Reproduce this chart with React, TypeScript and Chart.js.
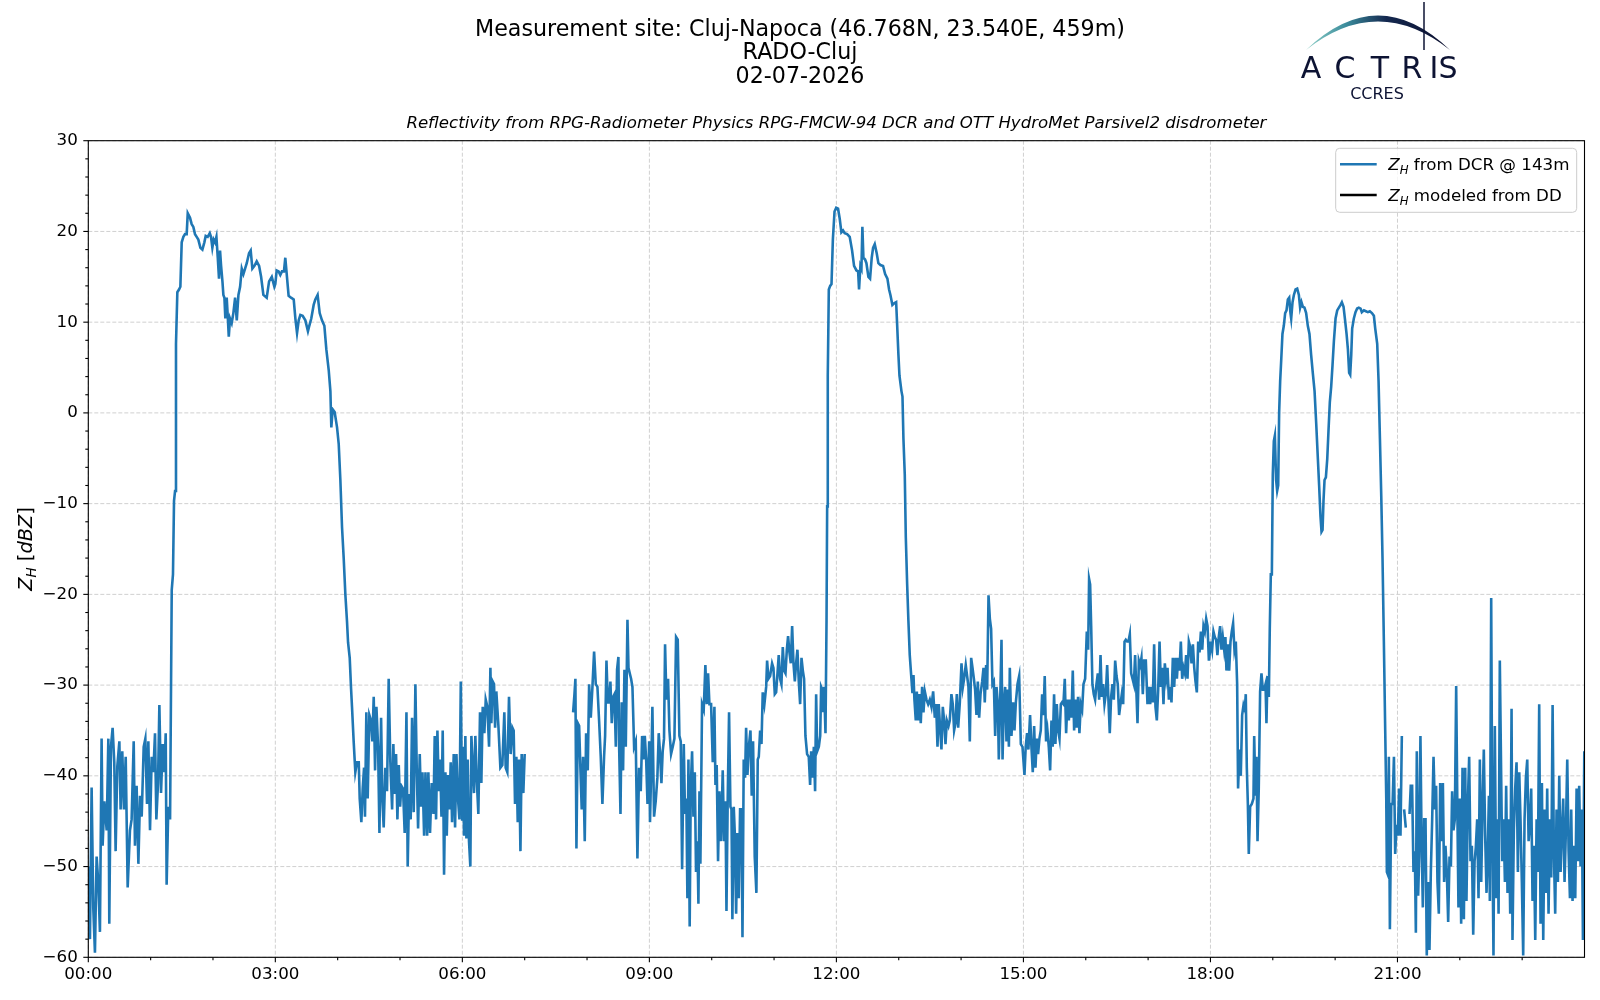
import React, { useEffect, useRef } from 'react';
import { Chart, registerables } from 'chart.js';

Chart.register(...registerables);

// ---------- text ----------
const titleLines = ['Measurement site: Cluj-Napoca (46.768N, 23.540E, 459m)', 'RADO-Cluj', '02-07-2026'];
const subTitle = 'Reflectivity from RPG-Radiometer Physics RPG-FMCW-94 DCR and OTT HydroMet Parsivel2 disdrometer';
const seriesLabels = ['Z_H from DCR @ 143m', 'Z_H modeled from DD'];
const seriesColors = ['#1f77b4', '#000000'];

// ---------- axes ----------
const xMinMin = 0;
const xMaxMin = 1440;
const xMajorStepMin = 180;
const xMinorStepMin = 60;
const yMin = -60;
const yMax = 30;
const yMajorStep = 10;
const yMinorStep = 2;

// ---------- data: [minutes after 00:00 UTC, Z_H dBZ] ----------
const dcr0003: [number, number | null][] = [
  [0, -50], [1.6, -58], [3.2, -41.3], [4.8, -54.6], [6.4, -59.5], [8, -48.9], [9.6, -51.7], [11.2, -57.2], [12.8, -35.9], [13.8, -47.7],
  [15.4, -42.8], [17.7, -46], [19.3, -35.9], [20.2, -56.3], [21.8, -36.8], [23.4, -34.7], [25, -38.5], [26.3, -48.3], [27.9, -39], [29.9, -36.2],
  [31.1, -43.7], [32.7, -37.3], [34.3, -43.7], [36, -37.9], [37.9, -52.3], [40.1, -46], [41.7, -44.8], [43.7, -36.2], [44.9, -47.7], [46.5, -41.1],
  [48.2, -49.7], [49.8, -42.2], [51.4, -44.5], [53.3, -36.8], [54.9, -35.9], [56.5, -43.1], [57.8, -36.2], [59.4, -46], [61, -37.9], [62.6, -39.6],
  [64.2, -35.3], [65.5, -44.8], [67.1, -40.8], [68.4, -32.2], [70, -41.9], [71.6, -36.5], [73.2, -39.6], [74.5, -35.3], [75.4, -52], [77, -43.4],
  [78.7, -44.8], [80.3, -19.5], [81.5, -17.8], [82.5, -9.7], [83.5, -8.6], [84.4, 7.6], [85.7, 13.3], [87.3, 13.6], [88.6, 13.9], [89.9, 18.8],
  [91.5, 19.4], [93.1, 19.7], [94.7, 19.7], [95.7, 22], [97.9, 21.5], [99.5, 20.8], [101.1, 20.5], [102.7, 19.7], [104.3, 19.4], [105.9, 19.1],
  [107.9, 18.2], [109.8, 18], [111.7, 18.8], [113, 19.5], [114.9, 19.4], [116.9, 19.8], [118.1, 19.4], [119.4, 18.2], [120.7, 19.1], [122, 18.8],
  [123.3, 19.4], [124.6, 17.1], [125.8, 14.8], [126.8, 17.9], [127.8, 16.2], [129.1, 14.5], [130, 13], [131, 12.7], [131.9, 10.4], [133.2, 12.7],
  [134.2, 10.7], [135.2, 8.4], [136.4, 10.4], [138, 9.9], [139.6, 11], [141.3, 12.7], [142.9, 10.2], [144.5, 13], [146.1, 13.9], [147.7, 15.9],
  [149.3, 15.3], [150.9, 15.9], [152.5, 16.5], [154.7, 17.6], [156.3, 17.9], [157.9, 15.9], [159.9, 16.2], [162.1, 16.7], [164.4, 16.2], [166.3, 15],
  [168.5, 13], [171.7, 12.7], [174, 14.5], [176.6, 15], [179.1, 13.9],
];

const dcr0306: [number, number | null][] = [
  [180, 14.2], [181.3, 15.7], [183.2, 15.6], [184.8, 15.2], [186.4, 15.6], [188.3, 15.6], [189.6, 17.1], [191.2, 15], [192.8, 12.9], [195.1, 12.7],
  [197.7, 12.5], [199.3, 10.4], [200.9, 8.8], [202.5, 10.2], [204.1, 10.8], [206.3, 10.7], [208.9, 10.2], [211.4, 9], [212.7, 9.6], [214.6, 10.4],
  [216.9, 11.9], [218.5, 12.5], [220.7, 13], [222.7, 11], [224.9, 10.2], [227.2, 9.6], [229.1, 7], [231.4, 4.7], [233, 2.4], [233.9, -1.6],
  [235.2, 0.4], [237.1, 0.1], [239.4, -1.6], [241, -3.4], [242.6, -7.4], [244.2, -12.6], [245.8, -16], [247.4, -20], [249, -23], [250, -25.3],
  [251.6, -27], [252.9, -30.4], [253.8, -32.4], [255.4, -36.2], [257, -39.6], [258.6, -38.5], [260.3, -38.5], [261.2, -42.5], [262.8, -45.1], [264.1, -41.4],
  [265.4, -39.1], [266.3, -44.5], [267.6, -33], [268.9, -42.5], [270.5, -33.3], [272.1, -33.9], [273.4, -36.2], [274.7, -31.3], [276, -39.4], [277.3, -32.4],
  [278.9, -36.8], [280.2, -46.3], [281.8, -33.6], [283, -42.5], [284.3, -45.7], [285.9, -39.1], [287.5, -41.7], [289.1, -29.3], [290.7, -38.5], [292.4, -43.7],
  [293.6, -36.5], [294.9, -42], [296.2, -37.6], [297.5, -44.8], [298.8, -38.8], [300.1, -43.4], [301.3, -41.1], [302.9, -41.4], [304.5, -46.3], [306.2, -33],
  [307.4, -50], [308.7, -42], [310.3, -44.8], [311.6, -33.6], [313.2, -44], [314.8, -29.9], [316.1, -39.1], [317.4, -45.8], [319, -37.6], [320.3, -43.4],
  [321.6, -39.6], [323.2, -46.6], [324.5, -39.6], [326.1, -46.6], [327.3, -39.6], [328.9, -46.3], [330.5, -40.8], [332.2, -44.2], [333.4, -35.6], [334.7, -44.8],
  [336, -35], [337.3, -41.7], [338.6, -38.2], [339.9, -44.5], [341.1, -35], [342.4, -50.9], [343.7, -39.6], [345, -46.6], [346.3, -39.9], [347.6, -43.7],
  [348.8, -38.5], [350.1, -45.1], [351.7, -37.6], [353, -45.7], [354.3, -37.6], [355.6, -42.2], [357.2, -44.8], [358.5, -29.6], [359.8, -44.8],
];

const dcr0609: [number, number | null][] = [
  [360.6, -36.8], [361.6, -46.6], [362.9, -35.6], [363.9, -46.9], [365.1, -38.2], [366.4, -47.2], [367.7, -50], [368.7, -35.6], [370, -39], [371.2, -41.9],
  [372.5, -35.6], [373.8, -40.2], [375.4, -44.2], [377, -33], [378.3, -40.8], [379.6, -32.4], [381.2, -35.3], [382.5, -31.6], [384.1, -32.4], [385.7, -36.8],
  [387, -28.1], [387.9, -34.2], [389.2, -29.6], [390.5, -29.9], [391.5, -34.7], [392.7, -30.7], [394.7, -34.5], [396.6, -39.1], [398.5, -38.8], [400.4, -33],
  [401.7, -39.1], [403.3, -39.6], [404.9, -31.3], [406.5, -37.6], [408.2, -34.7], [409.4, -35], [410.7, -43.1], [412, -37.9], [413.3, -45.1], [414.6, -38.2],
  [415.9, -48.3], [417.1, -37.6], [418.7, -41.9], [420, -37.6],
  [443, null],
  [466.6, -33], [467.9, -31], [468.8, -29.3], [469.8, -48], [471.1, -34.2], [472.4, -34.5], [473.6, -39.1], [474.9, -43.7], [476.2, -37.9], [477.8, -47.2],
  [479.1, -35.3], [480.7, -39.4], [482, -29.9], [483.6, -33.6], [485.2, -30.2], [486.8, -26.3], [488.4, -29.9], [490, -30.2], [491.6, -33.9], [493.2, -37.9],
  [494.8, -43.1], [496.4, -37.9], [497.4, -35.6], [498.7, -27.3], [500, -31.9], [501.2, -31.9], [502.5, -29.6], [503.8, -34.2], [505.1, -31.3], [506.4, -31],
  [507.7, -36.8], [508.9, -28.3], [510.2, -26.9], [510.9, -36.8], [512.2, -44.2], [513.4, -31.9], [514.7, -39.4], [516, -28.3], [517.3, -36.8], [518.9, -22.8],
  [519.9, -28.1], [521.1, -28.7], [522.4, -29.3], [523.7, -30.2], [525.3, -36.8], [526.9, -36.2], [528.5, -49.1], [530.1, -39.1], [531.7, -41.7], [533, -35.6],
  [534.3, -38.2], [535.6, -35.6], [536.9, -38.2], [538.2, -43.1], [539.8, -36.2],
];

const dcr0912: [number, number | null][] = [
  [540.6, -45.1], [541.9, -38.5], [542.9, -32.4], [544.5, -44.5], [546.1, -42.8], [547.7, -40.2], [549, -35.3], [550.3, -37.6], [551.6, -40.8], [552.8, -37.3],
  [554.1, -35.9], [555.1, -25.5], [556.4, -31.6], [558, -29.3], [559.3, -35], [560.9, -37.6], [562.5, -36.8], [564.1, -35.9], [565.7, -24.7], [567.3, -25],
  [568.9, -35.6], [570.2, -36.2], [571.5, -50.3], [573.1, -36.5], [574.3, -44.2], [575.6, -42.5], [576.6, -53.5], [577.6, -38.2], [578.8, -56.6], [579.8, -41.4],
  [581.1, -37.3], [582.4, -44.5], [583.7, -39.6], [584.9, -50.6], [586.2, -47.2], [587.2, -54.1], [588.2, -41.7], [589.1, -49.7], [590.7, -32.1], [592.3, -32.7],
  [593.9, -27.8], [595.2, -32.1], [596.5, -28.7], [597.8, -32.1], [599.4, -32.1], [601, -38.5], [602.6, -32.4], [603.6, -41], [604.8, -38.8], [606.1, -49.4],
  [607.4, -41.7], [609, -47.2], [610.6, -39.4], [611.9, -47.2], [613.2, -42.8], [614.2, -54.9], [615.4, -42.5], [616.7, -33], [618, -43.4], [619, -43.7],
  [619.9, -55.8], [621.2, -43.4], [622.2, -46.3], [623.5, -55.2], [624.7, -46.3], [626, -53.5], [627.3, -43.7], [628.6, -43.7], [629.6, -57.8], [630.8, -38.2],
  [632.1, -40.2], [633.1, -34.7], [634.4, -39.9], [635.7, -36.8], [637.3, -35], [638.5, -42.2], [639.8, -36.2], [641.4, -48.9], [643, -52.9], [644.3, -38.2],
  [645.3, -37.9], [646.6, -35], [647.9, -36.5], [649.1, -30.8], [650.7, -32.1], [652.4, -30.2], [653.3, -27.3], [654.6, -29.3], [656.2, -29], [658.1, -27.6],
  [659.4, -28.1], [660.7, -31], [662, -30.8], [663.3, -28.7], [664.5, -26.7], [665.8, -29.3], [667.1, -29.9], [668.4, -25.8], [669.7, -28.4], [671, -28.7],
  [672.3, -26.1], [673.5, -24.6], [674.8, -26.4], [676.1, -27.6], [677.4, -23.5], [678.7, -27.6], [680, -29.6], [681.2, -27.6], [682.5, -26.1], [683.8, -29.6],
  [685.1, -32.1], [686.4, -27], [687.7, -28.4], [688.9, -29.3], [690.2, -35.6], [691.8, -37.6], [693.4, -37.9], [694.7, -41], [695.7, -37.3], [697, -40.2],
  [698.3, -36.8], [699.5, -41.7], [700.5, -31], [701.5, -37.3], [703.1, -36.8], [704.4, -35.6], [705.3, -30.2], [706.3, -30.5], [707.2, -33], [708.2, -30.2],
  [709.5, -35.3], [710.5, -22.9], [711.1, -10.3], [711.7, 4.1], [712.7, 13.6], [714, 14], [715.3, 14.2], [716.6, 19.1], [718.2, 22.2], [719.8, 22.6],
];

const dcr1215: [number, number | null][] = [
  [721.6, 22.5], [723.2, 21.4], [724.8, 19.9], [726.4, 20.1], [728, 19.8], [730.3, 19.7], [732.8, 19.4], [735.1, 17.9], [737, 16.2], [739.3, 15.7],
  [740.9, 15.6], [741.8, 13.6], [743.1, 16.2], [744.1, 15.9], [745, 20.5], [746, 17.1], [747.6, 16.9], [748.9, 16.5], [750.8, 15], [752.4, 14.8],
  [754, 17.1], [755.3, 18.2], [756.9, 18.6], [758.8, 17.6], [760.4, 16.5], [762.4, 16.3], [764.9, 16.2], [766.9, 15.3], [769.1, 14.8], [770.7, 13.6],
  [772, 13], [773.9, 11.9], [775.9, 12.1], [777.5, 12.2], [778.4, 9.9], [779.7, 6.4], [780.7, 4.1], [782.6, 2.4], [783.6, 1.8], [784.5, -2.8],
  [785.8, -6.8], [786.8, -13.7], [788.1, -18.9], [789.3, -22.9], [790.6, -26.7], [792.2, -29.3], [793.2, -30.9], [794.2, -28.9], [795.1, -31.6], [796.4, -33.9],
  [797.4, -30.7], [798.6, -33.9], [799.9, -31], [801.2, -34.2], [802.5, -30.2], [803.8, -33], [805.1, -30.7], [806.7, -31.6], [808.3, -32.1], [809.9, -31.6],
  [811.5, -32.4], [813.1, -30.7], [814.7, -33.6], [816, -32.1], [817.3, -36.8], [818.5, -32.1], [819.8, -34.7], [821.1, -37.1], [822.4, -32.4], [823.7, -33.9],
  [825, -36.5], [826.3, -33.9], [827.9, -34.5], [829.1, -33.9], [830.7, -31], [832, -32.1], [833.3, -35], [834.6, -34.2], [835.9, -31], [837.2, -34.7],
  [838.8, -31.9], [840.4, -27.6], [841.7, -30.2], [842.9, -29.3], [844.5, -27.8], [845.8, -29], [847.1, -30.2], [848.4, -36.2], [849.7, -27], [851, -28.1],
  [852.3, -29.3], [853.5, -30.5], [854.8, -33.3], [856.1, -29.6], [857.4, -33.6], [858.7, -31], [860.3, -29.6], [861.6, -28.1], [862.8, -31.9], [864.1, -27.8],
  [865.1, -30.5], [866.4, -20.1], [867.7, -22.7], [868.9, -23.8], [870.2, -29.9], [871.5, -29.6], [872.8, -35.6], [874.1, -30.2], [875.4, -32.1], [876.3, -38.2],
  [877.6, -31.9], [878.9, -25], [879.9, -38.2], [881.1, -32.1], [882.4, -30.2], [883.7, -36.2], [885, -30.5], [886, -36.8], [886.9, -28.1], [888.5, -35.6],
  [890.1, -31.9], [891.4, -35], [892.7, -31.9], [894.3, -29.9], [895.9, -29], [897.5, -36.5], [899.1, -36.8],
];

const dcr1518: [number, number | null][] = [
  [901, -39.9], [902.2, -36.8], [903.5, -35.3], [904.8, -37.1], [906.4, -33.3], [907.7, -36.8], [909, -39.6], [910.3, -34.5], [911.6, -39.1], [912.8, -35.9],
  [914.1, -37.6], [915.4, -35.9], [916.7, -35], [918, -31], [919.3, -33.3], [920.5, -29], [921.8, -36.2], [923.1, -35], [924.4, -36.8], [925.7, -39.4],
  [927, -33.9], [928.2, -36.8], [929.5, -31], [930.8, -36.5], [932.1, -32.1], [933.4, -35], [934.7, -35.9], [936, -32.1], [937.2, -31.9], [938.5, -32.1],
  [939.8, -29.3], [941.1, -35.3], [942.4, -31.6], [943.7, -33.9], [944.9, -31.6], [946.2, -33.6], [947.5, -28.4], [948.8, -35], [950.1, -31.6], [951.4, -34.7],
  [952.6, -31.3], [953.9, -35.3], [955.2, -32.1], [956.5, -32.7], [957.8, -29.9], [959.4, -29.3], [961, -24.1], [962.3, -26.1], [963.2, -18.3], [964.2, -18.9],
  [965.2, -23.5], [966.4, -29.9], [967.7, -31], [969, -31.6], [970.3, -29.9], [971.6, -28.7], [972.9, -31.6], [974.2, -26.7], [975.4, -31.3], [976.7, -29.9],
  [978, -32.1], [979.3, -31], [980.6, -27.8], [981.9, -31.9], [983.1, -35.3], [984.4, -31.3], [985.7, -29.9], [987, -31.6], [988.3, -27.3], [989.6, -29],
  [990.8, -29.9], [992.1, -33.3], [993.4, -32.1], [994.7, -31], [996, -32.1], [997.3, -25.2], [998.5, -25], [999.8, -25.2], [1001.1, -25.2], [1002.4, -24.4],
  [1003.7, -28.7], [1005, -29.3], [1006.3, -29.9], [1007.5, -26.7], [1008.8, -31], [1009.8, -34.2], [1011.1, -27.3], [1012.4, -27.8], [1013.6, -27], [1014.9, -31],
  [1016.2, -27.3], [1017.8, -27.3], [1019.4, -32.1], [1020.7, -30.2], [1022, -32.1], [1023.3, -30.2], [1024.5, -31.9], [1025.8, -25.5], [1027.1, -32.4], [1028.4, -33.9],
  [1029.7, -30.5], [1031, -25.2], [1032.3, -30.2], [1033.5, -28.1], [1034.8, -32.1], [1036.1, -27.6], [1037.4, -29.3], [1038.7, -28.1], [1040, -31.6], [1041.2, -30.2],
  [1042.5, -31.9], [1043.8, -27], [1045.1, -30.2], [1046.4, -27], [1047.7, -29.3], [1048.9, -27], [1050.2, -28.4], [1051.5, -25.2], [1052.8, -29.3], [1054.1, -28.1],
  [1055.4, -28.7], [1056.6, -26.7], [1057.9, -29.3], [1059.2, -25.2], [1060.5, -25.8], [1061.8, -27.6], [1063.1, -25.5], [1064.4, -28.1], [1065.6, -29.6], [1066.9, -30.8],
  [1068.2, -25.2], [1069.5, -26.4], [1070.8, -24.1], [1072.1, -26.1], [1073.3, -23.5], [1074.6, -24.1], [1075.9, -22.7], [1077.2, -23.5], [1078.5, -27.3], [1079.8, -26.1],
];

const dcr1821: [number, number | null][] = [
  [1080.3, -25.2], [1081.6, -26.1], [1082.9, -24.1], [1084.2, -24.7], [1085.5, -25], [1086.7, -26.7], [1088, -24.7], [1089.3, -23.5], [1090.6, -26.1], [1091.9, -24.7],
  [1093.2, -26.1], [1094.4, -24.7], [1095.4, -28.4], [1096.7, -25.5], [1098, -28.4], [1099.3, -25.2], [1100.5, -24.1], [1101.8, -23.2], [1103.1, -26.1], [1104.4, -25.2],
  [1105.7, -29.9], [1106.6, -41.4], [1107.9, -37.1], [1109.2, -40], [1110.5, -33.3], [1111.8, -32.2], [1113.1, -32.7], [1114, -31], [1115, -39.1], [1116, -43.1],
  [1116.9, -48.6], [1118.2, -43.4], [1119.8, -43.1], [1121.4, -42.5], [1122.1, -35.6], [1123.3, -42.2], [1124.3, -37.9], [1125.3, -47.2], [1126.5, -41.4], [1127.8, -30.7],
  [1129.1, -28.7], [1130.4, -30.5], [1131.7, -30.5], [1133, -29.9], [1133.9, -34.2], [1134.9, -29], [1136.2, -31.3], [1137.1, -23.8], [1138.1, -17.8], [1139.1, -17.8],
  [1140, -6.8], [1141, -3.1], [1142, -2.5], [1143.2, -7.4], [1144.2, -8.6], [1145.2, -8], [1146.1, 0], [1147.1, 3.5], [1148.1, 5.8], [1149.3, 8.7],
  [1150.6, 9.6], [1151.9, 11], [1153.2, 11.3], [1154.5, 12.5], [1155.8, 12.7], [1157, 11], [1157.7, 10.4], [1159, 12.2], [1160.3, 13], [1161.9, 13.6],
  [1163.5, 13.7], [1165.1, 13], [1166.3, 11.6], [1167.6, 12.2], [1168.9, 11.7], [1170.5, 11.6], [1172.1, 11], [1173.7, 9.6], [1175.3, 8.7], [1176.9, 6.4],
  [1178.5, 4.4], [1180.2, 2.4], [1181.8, -1.2], [1183.4, -5.1], [1184.6, -8], [1185.9, -11.4], [1186.9, -13.1], [1187.9, -12.9], [1188.8, -9.7], [1189.8, -7.4],
  [1191.1, -7.1], [1192.4, -5.1], [1193.6, -2], [1194.9, 1.2], [1196.2, 2.9], [1197.5, 5.3], [1198.8, 7.9], [1200.4, 10.4], [1202, 11.3], [1203.6, 11.6],
  [1205.2, 11.9], [1206.5, 12.2], [1208.1, 11.7], [1209.4, 10.4], [1211, 8.7], [1212.3, 7], [1213.5, 4.4], [1214.5, 4.2], [1215.5, 6.4], [1216.4, 9.3],
  [1218, 10.4], [1219.6, 11.1], [1221.2, 11.5], [1222.8, 11.6], [1224.5, 11.5], [1225.7, 11.1], [1227.7, 11.3], [1229.6, 11.2], [1231.5, 11.1], [1233.4, 11.2],
  [1235.4, 11], [1237.3, 10.7], [1238.6, 9.3], [1240.5, 7.6], [1241.8, 3.5], [1243.1, -2.8], [1244.4, -9.2], [1245.6, -16], [1246.9, -25.2], [1248.2, -35],
  [1249.2, -42.5], [1249.8, -50.6], [1250.8, -50.9], [1251.7, -37.9], [1252.7, -56.9], [1254, -43.1], [1255.3, -43.1], [1256.6, -37.9], [1257.8, -48.6], [1259.1, -45.4],
];

const dcr2124: [number, number | null][] = [
  [1260.3, -46.6], [1261.6, -41.4], [1262.9, -46.6], [1264.2, -35.6], [1265.2, null], [1266.4, -43.7], [1268, -45.7], [1269.8, null], [1271.6, -44.2], [1272.8, -41.1],
  [1274.1, -41.1], [1275.4, -50.6], [1276.7, -48.3], [1277.7, -57.3], [1278.6, -37.3], [1279.9, -53.2], [1280.9, -48.9], [1282.1, -35.6], [1283.1, -46], [1284.4, -54.5],
  [1285.7, -44.8], [1287, -44.8], [1288.2, -59.8], [1289.5, -51.7], [1290.8, -59.2], [1292.1, -50.6], [1293.4, -44.8], [1294.7, -37.9], [1296, -43.7], [1297.2, -41.1],
  [1298.5, -51.7], [1299.8, -55.2], [1301.1, -40.8], [1302.4, -47.2], [1303.7, -40.8], [1304.9, -51.7], [1306.2, -47.7], [1307.5, -50.6], [1308.8, -56.1], [1310.1, -48.9],
  [1311.4, -50], [1312.6, -41.7], [1313.9, -46], [1315.2, -44.8], [1316.5, -30.1], [1317.8, -45.4], [1318.7, -54.5], [1320, -42.5], [1321.3, -56.3], [1322.6, -39.1],
  [1323.9, -55.8], [1325.2, -39.1], [1326.4, -53.8], [1327.7, -43.1], [1329, -37.9], [1330.3, -49.4], [1331.6, -47.7], [1332.9, -57.5], [1334.2, -49.4], [1335.4, -47.9],
  [1336.7, -44.8], [1338, -53.5], [1339.3, -38.2], [1340.6, -51.7], [1341.9, -43.1], [1343.1, -37.1], [1344.4, -46.6], [1345.7, -52.9], [1347, -47.7], [1348, -42.2],
  [1348.9, -53.8], [1350.2, -20.4], [1351.2, -44.8], [1352.4, -59.8], [1353.7, -34.5], [1355, -53.5], [1356.3, -44.8], [1357.3, -55.2], [1358.5, -27.3], [1359.8, -40],
  [1360.8, -49.4], [1362.1, -44.8], [1363.4, -51.7], [1364.6, -41.1], [1365.9, -52.9], [1367.2, -44.8], [1368.5, -55.2], [1369.8, -32.6], [1370.7, -58.1], [1372, -46],
  [1373.3, -41.4], [1374.6, -38.5], [1375.9, -50.6], [1377.2, -39.6], [1378.4, -44.8], [1379.7, -51.7], [1381, -59.8], [1382.3, -44.8], [1383.6, -40.2], [1384.9, -38.2],
  [1386.2, -47.2], [1387.4, -45.4], [1388.7, -41.4], [1390, -53.8], [1391.3, -47.7], [1392.6, -58.1], [1393.9, -44.8], [1395.1, -50.6], [1396.4, -32.1], [1397.7, -56.3],
  [1399, -40.8], [1400.3, -58.1], [1401.6, -43.7], [1402.8, -52.9], [1404.1, -41.4], [1405.4, -55.2], [1406.7, -44.8], [1408, -51.2], [1409.3, -32.2], [1410.5, -48.3],
  [1411.8, -55.2], [1413.1, -43.7], [1414.4, -51.7], [1415.7, -40], [1417, -50.6], [1418.3, -46], [1419.5, -42.5], [1420.8, -51.7], [1422.1, -46], [1423.4, -38.2],
  [1424.7, -48.3], [1426, -53.5], [1427.2, -43.7], [1428.5, -53.8], [1429.8, -47.7], [1431.1, -53.5], [1432.4, -41.4], [1433.7, -49.4], [1434.9, -41.1], [1436.2, -50],
  [1437.5, -43.7], [1438.5, -58.1], [1439.8, -37.3],
];

// ---------- helpers ----------
const FONT = '"DejaVu Sans"';

type Part = { t: string; italic?: boolean; sub?: boolean };

function mathLabel(label: string): Part[] {
  const m = label.match(/^(\w)_(\w)(.*)$/);
  if (!m) return [{ t: label }];
  return [{ t: m[1], italic: true }, { t: m[2], italic: true, sub: true }, { t: m[3] }];
}

const yLabelParts: Part[] = [
  { t: 'Z', italic: true }, { t: 'H', italic: true, sub: true }, { t: ' [' }, { t: 'dBZ', italic: true }, { t: ']' },
];

function drawRich(ctx: CanvasRenderingContext2D, parts: Part[], x: number, y: number, size: number, align: 'left' | 'center') {
  const fontFor = (p: Part) => `${p.italic ? 'italic ' : ''}${p.sub ? size * 0.7 : size}px ${FONT}`;
  const widths = parts.map((p) => { ctx.font = fontFor(p); return ctx.measureText(p.t).width; });
  const total = widths.reduce((a, b) => a + b, 0);
  let cx = align === 'center' ? x - total / 2 : x;
  ctx.textAlign = 'left';
  ctx.textBaseline = 'alphabetic';
  parts.forEach((p, i) => {
    ctx.font = fontFor(p);
    ctx.fillText(p.t, cx, y + (p.sub ? size * 0.22 : 0));
    cx += widths[i];
  });
}

function hhmm(m: number): string {
  const h = Math.floor(m / 60);
  const mm = Math.round(m % 60);
  return `${String(h).padStart(2, '0')}:${String(mm).padStart(2, '0')}`;
}

const decorPlugin = {
  id: 'mplDecor',
  beforeDatasetsDraw(chart: any) {
    const { ctx, chartArea: a, scales } = chart;
    ctx.save();
    ctx.strokeStyle = '#d0d0d0';
    ctx.lineWidth = 1;
    ctx.setLineDash([4, 2]);
    for (let v = xMinMin; v < xMaxMin; v += xMajorStepMin) {
      const px = scales.x.getPixelForValue(v);
      ctx.beginPath(); ctx.moveTo(px, a.top); ctx.lineTo(px, a.bottom); ctx.stroke();
    }
    for (let v = yMin; v <= yMax; v += yMajorStep) {
      const py = scales.y.getPixelForValue(v);
      ctx.beginPath(); ctx.moveTo(a.left, py); ctx.lineTo(a.right, py); ctx.stroke();
    }
    ctx.restore();
  },
  afterDraw(chart: any) {
    const { ctx, chartArea: a, scales } = chart;
    ctx.save();
    // frame
    ctx.strokeStyle = '#000';
    ctx.lineWidth = 1.1;
    ctx.setLineDash([]);
    ctx.strokeRect(a.left, a.top, a.right - a.left, a.bottom - a.top);
    // ticks
    for (let v = xMinMin; v < xMaxMin; v += xMinorStepMin) {
      const px = scales.x.getPixelForValue(v);
      const len = v % xMajorStepMin === 0 ? 5 : 3;
      ctx.beginPath(); ctx.moveTo(px, a.bottom); ctx.lineTo(px, a.bottom + len); ctx.stroke();
    }
    for (let v = yMin; v <= yMax; v += yMinorStep) {
      const py = scales.y.getPixelForValue(v);
      const len = (v - yMin) % yMajorStep === 0 ? 5 : 3;
      ctx.beginPath(); ctx.moveTo(a.left, py); ctx.lineTo(a.left - len, py); ctx.stroke();
    }
    // titles
    ctx.fillStyle = '#000';
    ctx.textAlign = 'center';
    ctx.textBaseline = 'alphabetic';
    ctx.font = `22.2px ${FONT}`;
    const baselines = [36, 59.3, 82.5];
    titleLines.forEach((t, i) => ctx.fillText(t, 800, baselines[i]));
    ctx.font = `italic 16.6px ${FONT}`;
    ctx.fillText(subTitle, (a.left + a.right) / 2, 128.3);
    // y label
    ctx.save();
    ctx.translate(24.5, (a.top + a.bottom) / 2);
    ctx.rotate(-Math.PI / 2);
    drawRich(ctx, yLabelParts, 0, 7, 19.4, 'center');
    ctx.restore();
    // legend
    const lx = 1335.7, ly = 148.3, lw = 241, lh = 64;
    ctx.beginPath();
    ctx.roundRect(lx, ly, lw, lh, 4);
    ctx.fillStyle = 'rgba(255,255,255,0.8)';
    ctx.fill();
    ctx.strokeStyle = '#cccccc';
    ctx.lineWidth = 1;
    ctx.stroke();
    chart.data.datasets.forEach((ds: any, i: number) => {
      const cy = 164.3 + i * 30.7;
      ctx.strokeStyle = ds.borderColor;
      ctx.lineWidth = ds.borderWidth;
      ctx.beginPath(); ctx.moveTo(1340, cy); ctx.lineTo(1376.7, cy); ctx.stroke();
      ctx.fillStyle = '#000';
      drawRich(ctx, mathLabel(ds.label), 1388.3, cy + 6, 16.7, 'left');
    });
    // ACTRIS logo
    const grad = ctx.createLinearGradient(1306, 0, 1440, 0);
    grad.addColorStop(0, '#8fd0c8');
    grad.addColorStop(0.3, '#3b8c9c');
    grad.addColorStop(0.6, '#14284f');
    grad.addColorStop(1, '#0d1333');
    ctx.fillStyle = grad;
    ctx.beginPath();
    ctx.moveTo(1306, 50);
    ctx.quadraticCurveTo(1378, -19, 1450, 50);
    ctx.quadraticCurveTo(1378, -7, 1306, 50);
    ctx.closePath();
    ctx.fill();
    ctx.strokeStyle = '#0d1333';
    ctx.lineWidth = 1.5;
    ctx.beginPath(); ctx.moveTo(1424, 2); ctx.lineTo(1424, 50); ctx.stroke();
    ctx.fillStyle = '#0d1333';
    ctx.font = `30px ${FONT}`;
    ctx.textAlign = 'center';
    const letters = ['A', 'C', 'T', 'R', 'I', 'S'];
    const lxs = [1311, 1345, 1380, 1412, 1434, 1448];
    letters.forEach((c, i) => ctx.fillText(c, lxs[i], 78));
    ctx.font = `16px ${FONT}`;
    ctx.fillText('CCRES', 1377, 99);
    ctx.restore();
  },
};

const toPoints = (segs: [number, number | null][][]) =>
  segs.flat().map(([x, y]) => ({ x, y }));

export default function App() {
  const ref = useRef<HTMLCanvasElement | null>(null);
  useEffect(() => {
    document.body.style.margin = '0';
    const canvas = ref.current!;
    Chart.defaults.font.family = FONT;
    const chart = new Chart(canvas, {
      type: 'line',
      data: {
        datasets: [
          {
            label: seriesLabels[0],
            data: toPoints([dcr0003, dcr0306, dcr0609, dcr0912, dcr1215, dcr1518, dcr1821, dcr2124]) as any,
            borderColor: seriesColors[0],
            backgroundColor: seriesColors[0],
            borderWidth: 2.6,
            pointRadius: 0,
            tension: 0,
            spanGaps: false,
            clip: 0 as any,
          },
          {
            label: seriesLabels[1],
            data: [],
            borderColor: seriesColors[1],
            backgroundColor: seriesColors[1],
            borderWidth: 2.6,
            pointRadius: 0,
          },
        ],
      },
      options: {
        animation: false,
        responsive: false,
        devicePixelRatio: 1,
        layout: { padding: { top: 140.7, right: 15.5, left: 0, bottom: 0 } },
        plugins: { legend: { display: false }, title: { display: false }, tooltip: { enabled: false } },
        scales: {
          x: {
            type: 'linear',
            min: xMinMin,
            max: xMaxMin,
            grid: { display: false, drawTicks: false },
            border: { display: false },
            ticks: {
              stepSize: xMajorStepMin,
              autoSkip: false,
              maxRotation: 0,
              padding: 7.5,
              color: '#000',
              font: { size: 16.7, family: FONT },
              callback: (v: any) => (Number(v) >= xMaxMin ? '' : hhmm(Number(v))),
            },
            afterFit: (s: any) => { s.height = 42.7; },
          },
          y: {
            type: 'linear',
            min: yMin,
            max: yMax,
            grid: { display: false, drawTicks: false },
            border: { display: false },
            ticks: {
              stepSize: yMajorStep,
              padding: 10.5,
              color: '#000',
              font: { size: 16.7, family: FONT },
              callback: (v: any) => String(v).replace('-', '\u2212'),
            },
            afterFit: (s: any) => { s.width = 88.3; },
          },
        },
      },
      plugins: [decorPlugin],
    });
    return () => chart.destroy();
  }, []);
  return (
    <div style={{ width: 1600, height: 1000, background: '#fff', position: 'relative' }}>
      <canvas ref={ref} width={1600} height={1000} style={{ display: 'block', width: 1600, height: 1000 }} />
    </div>
  );
}
